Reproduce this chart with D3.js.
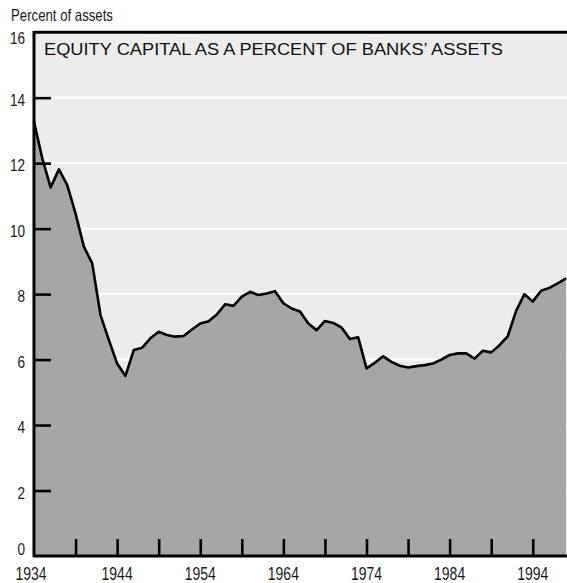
<!DOCTYPE html>
<html>
<head>
<meta charset="utf-8">
<script src="https://cdn.jsdelivr.net/npm/d3@7"></script>
<style>
  html, body { margin: 0; padding: 0; background: #ffffff; }
  svg { display: block; }
  text { font-family: "Liberation Sans", Arial, sans-serif; }
</style>
</head>
<body>
<svg id="chart" width="567" height="583"></svg>
<script>
// ---- data ----
const years = d3.range(1934, 1999);
const equityRatio = [
  13.26, 12.14, 11.26, 11.81, 11.33, 10.46, 9.45, 8.94, 7.36, 6.60,
  5.88, 5.50, 6.29, 6.36, 6.65, 6.85, 6.75, 6.70, 6.72, 6.92,
  7.10, 7.17, 7.38, 7.69, 7.64, 7.92, 8.07, 7.97, 8.02, 8.09,
  7.72, 7.56, 7.47, 7.10, 6.90, 7.18, 7.12, 6.98, 6.63, 6.68,
  5.73, 5.90, 6.10, 5.93, 5.81, 5.76, 5.80, 5.83, 5.88, 6.00,
  6.14, 6.19, 6.19, 6.03, 6.27, 6.22, 6.44, 6.72, 7.49, 8.00,
  7.77, 8.10, 8.19, 8.33, 8.48
];
const yTicks = [0, 2, 4, 6, 8, 10, 12, 14, 16];
const gridValues = [2, 4, 6, 8, 10, 12, 14];
const xMinorTicks = d3.range(1939, 1998, 5);
const xLabelYears = [1934, 1944, 1954, 1964, 1974, 1984, 1994];
const titleText = "EQUITY CAPITAL AS A PERCENT OF BANKS\u2019 ASSETS";
const unitText = "Percent of assets";

const data = years.map((yr, i) => ({ year: yr, value: equityRatio[i] }));

// ---- layout ----
const mLeft = 34, mRight = 566, mTop = 32.2, mBottom = 556, W = 567;
const x = d3.scaleLinear().domain([1934, 1998]).range([mLeft, mRight]);
const y = d3.scaleLinear().domain([0, 16]).range([mBottom, mTop]);
const NARROW = 0.8;

const svg = d3.select("#chart");

// narrow text helper: horizontal squeeze around anchor point
function narrowText(g, tx, ty, str, anchor, size) {
  const t = g.append("text")
    .attr("transform", `translate(${tx},${ty}) scale(${NARROW},1)`)
    .attr("text-anchor", anchor)
    .attr("font-size", size)
    .attr("fill", "#1a1a1a")
    .text(str);
  return t;
}

// plot background
svg.append("rect")
  .attr("x", mLeft).attr("y", mTop)
  .attr("width", W - mLeft).attr("height", mBottom - mTop)
  .attr("fill", "#ececec");

// gridlines
svg.append("g").selectAll("line").data(gridValues).join("line")
  .attr("x1", mLeft).attr("x2", W)
  .attr("y1", d => y(d)).attr("y2", d => y(d))
  .attr("stroke", "#ffffff").attr("stroke-width", 2);

// area
const area = d3.area()
  .x(d => x(d.year)).y0(y(0)).y1(d => y(d.value));
svg.append("path").datum(data)
  .attr("d", area)
  .attr("fill", "#a6a6a6");

// line
const line = d3.line().x(d => x(d.year)).y(d => y(d.value));
svg.append("path").datum(data)
  .attr("d", line)
  .attr("fill", "none")
  .attr("stroke", "#000")
  .attr("stroke-width", 2.6)
  .attr("stroke-linejoin", "round");

// y axis ticks (inward)
const yAxis = d3.axisRight(y).tickValues(yTicks.filter(v => v > 0 && v < 16))
  .tickSize(17).tickFormat("");
const gy = svg.append("g").attr("transform", `translate(${mLeft},0)`).call(yAxis);
gy.select(".domain").remove();
gy.selectAll(".tick line").attr("stroke", "#000").attr("stroke-width", 2.6);

// y labels
const gyl = svg.append("g");
yTicks.forEach(v => {
  let by = y(v) + 8;
  if (v === 0) by = y(v) - 1;
  if (v === 16) by = y(v) + 12;
  narrowText(gyl, 25, by, String(v), "end", 17);
});

// x axis ticks (inward, upward)
const xAxis = d3.axisTop(x).tickValues(xMinorTicks).tickSize(17).tickFormat("");
const gx = svg.append("g").attr("transform", `translate(0,${mBottom})`).call(xAxis);
gx.select(".domain").remove();
gx.selectAll(".tick line").attr("stroke", "#000").attr("stroke-width", 2.6);

// x labels
const gxl = svg.append("g");
xLabelYears.forEach(v => {
  narrowText(gxl, v === 1934 ? x(v) - 3 : x(v), 579.5, String(v), "middle", 17.5);
});

// frame lines: left, bottom, top
svg.append("line").attr("x1", mLeft).attr("x2", mLeft).attr("y1", mTop - 1.3).attr("y2", mBottom + 1.3)
  .attr("stroke", "#000").attr("stroke-width", 3);
svg.append("line").attr("x1", mLeft).attr("x2", W).attr("y1", mBottom).attr("y2", mBottom)
  .attr("stroke", "#000").attr("stroke-width", 3);
svg.append("line").attr("x1", mLeft).attr("x2", W).attr("y1", mTop).attr("y2", mTop)
  .attr("stroke", "#000").attr("stroke-width", 3);

// title
svg.append("text")
  .attr("x", 44).attr("y", 54.5)
  .attr("font-size", 17)
  .attr("fill", "#111")
  .attr("textLength", 459)
  .attr("lengthAdjust", "spacingAndGlyphs")
  .text(titleText);

// unit label
narrowText(svg, 11, 20.5, unitText, "start", 16.5);
</script>
</body>
</html>
